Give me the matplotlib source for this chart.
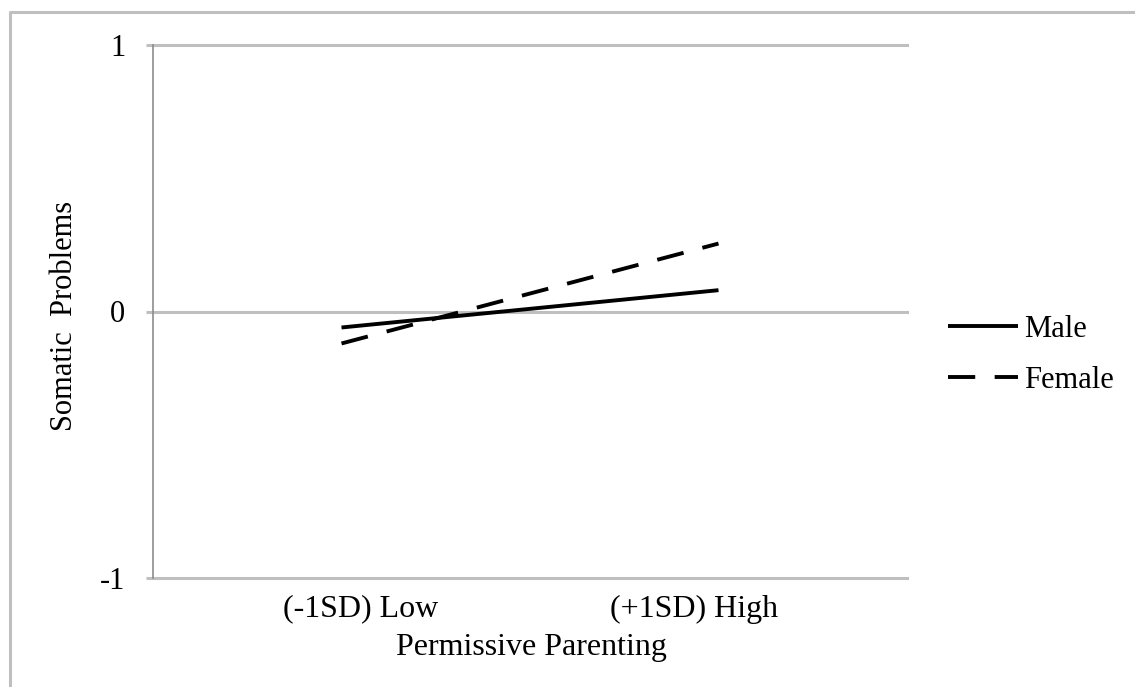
import matplotlib
matplotlib.use("Agg")
import matplotlib.pyplot as plt
from matplotlib.lines import Line2D
from matplotlib.transforms import ScaledTranslation

# data
categories = ["(-1SD) Low", "(+1SD) High"]
male = [-0.06, 0.08]
female = [-0.12, 0.255]
y_ticks = [-1, 0, 1]

grid_col = "#bfbfbf"
plt.rcParams["font.family"] = ["Liberation Serif", "DejaVu Serif"]
plt.rcParams["font.size"] = 22

W, H = 1135, 687
fig = plt.figure(figsize=(W / 100, H / 100), dpi=100)
ax = fig.add_axes([153 / W, 1 - 578 / H, (907 - 153) / W, (578 - 45) / H])

x = range(len(categories))
ax.plot(x, male, color="black", lw=2.8, solid_capstyle="butt", label="Male")
fem, = ax.plot(x, female, color="black", lw=2.8, dash_capstyle="butt", label="Female")
fem.set_dashes((7, 5))

ax.set_xlim(-0.5, len(categories) - 0.5)
ax.set_ylim(-1, 1)
for v in y_ticks:
    ax.axhline(v, color=grid_col, lw=2.2, zorder=0, clip_on=False)

ax.set_xticks(list(x))
ax.set_xticklabels(categories, fontsize=23)
ax.set_yticks(y_ticks)
ax.set_yticklabels([str(v) for v in y_ticks])
ax.tick_params(axis="x", length=0, pad=12)
ax.tick_params(axis="y", length=5, width=2.2, color=grid_col, pad=15)

# the category labels sit a bit inward in the original
shifts = [0.19, -0.24]  # inches
for lab, dx in zip(ax.get_xticklabels(), shifts):
    lab.set_transform(lab.get_transform() + ScaledTranslation(dx, 0, fig.dpi_scale_trans))

for s in ["top", "right", "bottom"]:
    ax.spines[s].set_visible(False)
ax.spines["left"].set_color("#8c8c8c")
ax.spines["left"].set_linewidth(1.2)

fig.text(65 / W, 1 - 316 / H, "Somatic  Problems", rotation=90, ha="center", va="center")
fig.text(531 / W, 1 - 647 / H, "Permissive Parenting", ha="center", va="center", fontsize=23)

ax.legend(loc="upper left", bbox_to_anchor=(948 / W, 1 - 315 / H), bbox_transform=fig.transFigure,
          frameon=False, borderpad=0, borderaxespad=0, handlelength=2.3, handletextpad=0.2,
          labelspacing=0.72)

# outer chart border (only top and left visible)
fig.add_artist(Line2D([10 / W, 10 / W, 1], [0, 1 - 12 / H, 1 - 12 / H], transform=fig.transFigure,
                      color=grid_col, lw=2.2))

fig.savefig("out.png", dpi=100, facecolor="white")
